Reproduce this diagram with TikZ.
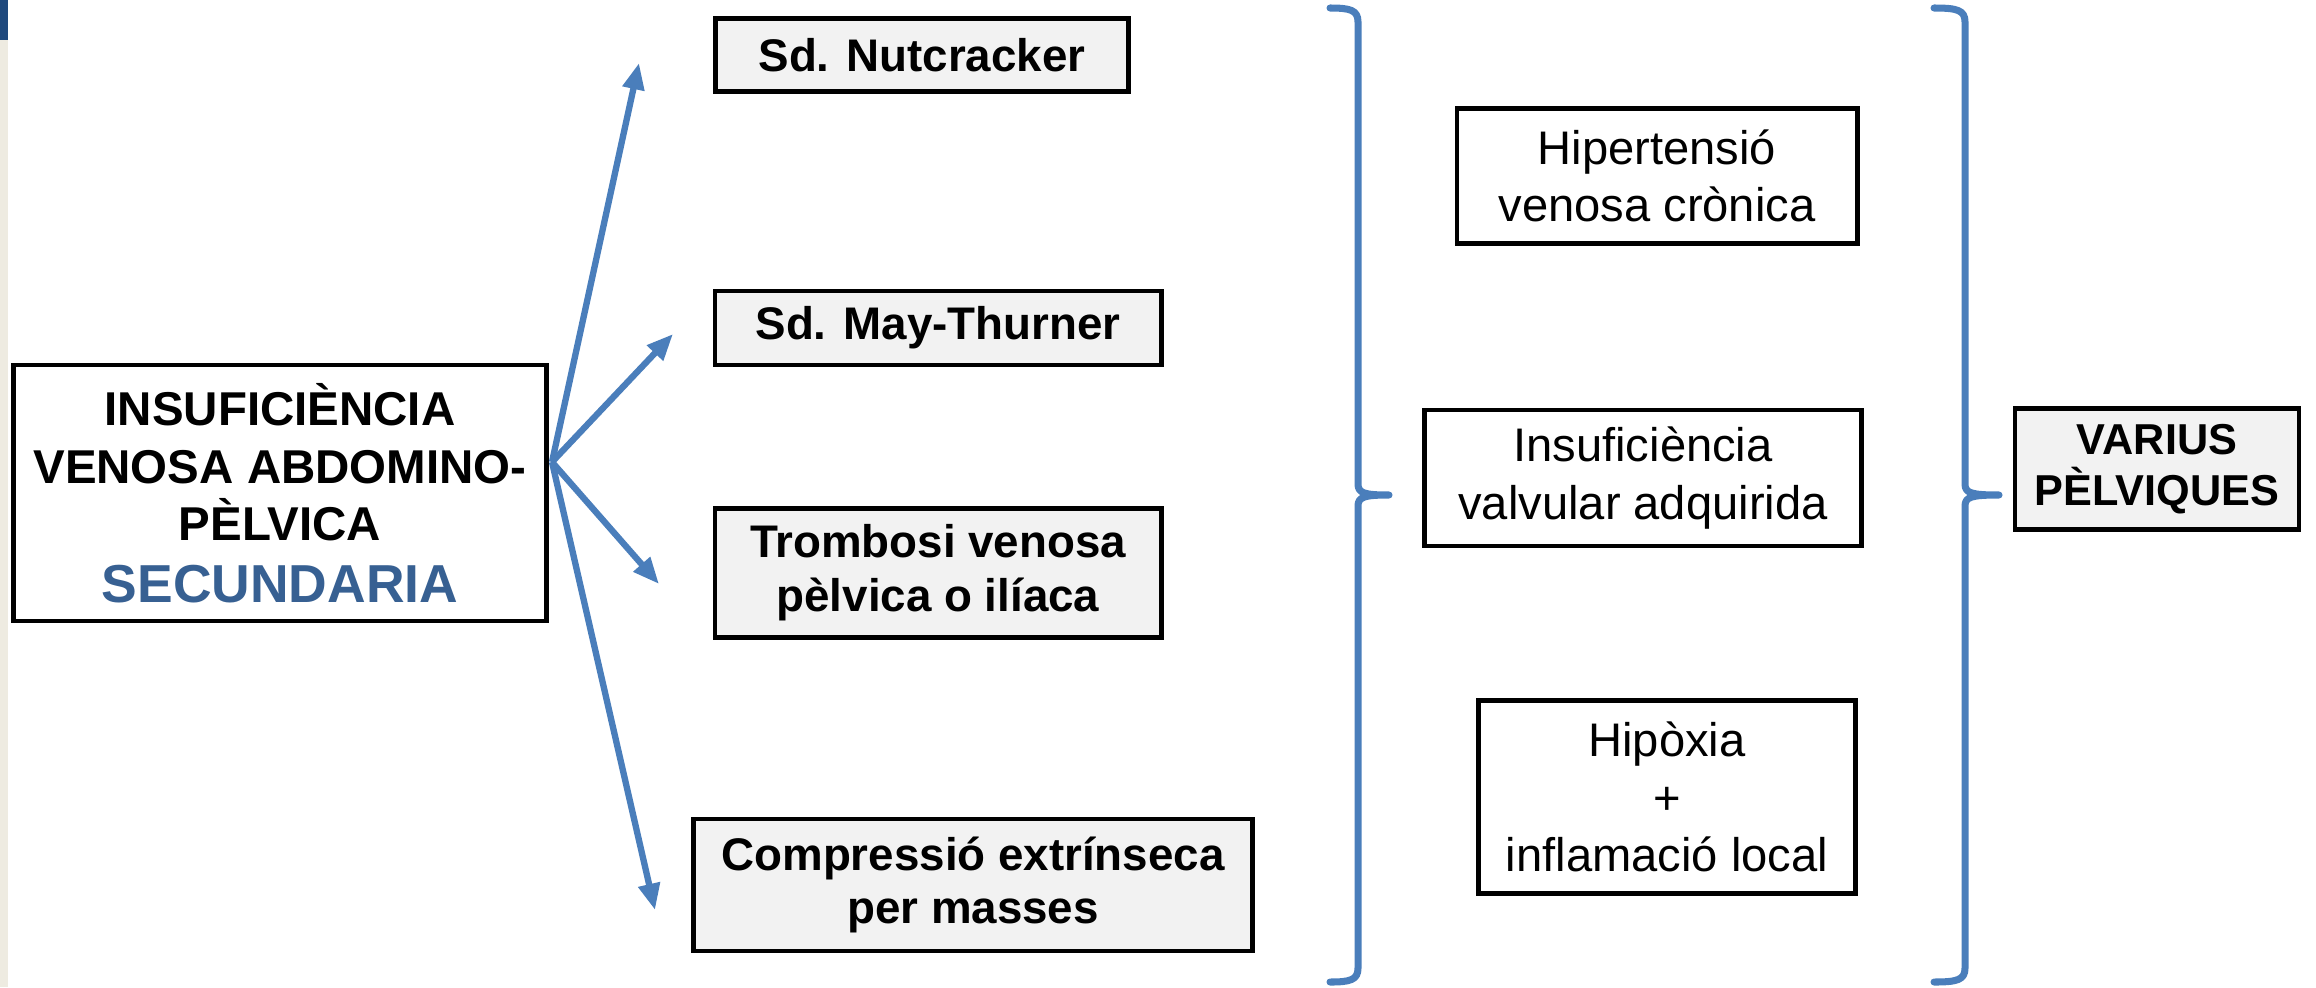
\documentclass[tikz,border=0pt]{standalone}
\usepackage{fontspec}
\setmainfont{Liberation Sans}
\usetikzlibrary{arrows.meta}
\definecolor{arrowblue}{HTML}{4A7EBB}
\definecolor{titleblue}{HTML}{376092}
\definecolor{boxgray}{HTML}{F2F2F2}
\definecolor{stripbeige}{HTML}{EEEBE1}
\definecolor{stripblue}{HTML}{1F497D}

\begin{document}
\begin{tikzpicture}[x=0.01cm, y=-0.01cm,
    mainbox/.style={draw, line width=1.35pt, fill=white, align=center, inner sep=0pt,
        font=\bfseries\fontsize{13.5}{16.4}\selectfont},
    causebox/.style={draw, line width=1.35pt, fill=boxgray, align=center, inner sep=0pt,
        font=\bfseries\fontsize{13}{15.3}\selectfont},
    effectbox/.style={draw, line width=1.35pt, fill=white, align=center, inner sep=0pt,
        font=\fontsize{13.4}{16.3}\selectfont},
    branch/.style={arrowblue, line width=1.8pt, -{Triangle[length=7.5pt, width=6pt]}},
    bracket/.style={arrowblue, line width=2pt, line cap=round, line join=round}]
    \useasboundingbox (0,0) rectangle (2316,987);

    % Slide strip at the left edge
    \fill[stripbeige] (0,0) rectangle (8,987);
    \fill[stripblue] (0,0) rectangle (8,40);

    % Secondary insufficiency
    \node[mainbox, minimum width=5.32cm, minimum height=2.56cm] (sec) at (280,493)
        {INSUFICIÈNCIA\\VENOSA ABDOMINO-\\PÈLVICA\\[1pt]
         {\fontsize{15.2}{17}\selectfont\textcolor{titleblue}{SECUNDARIA}}};

    % Causes
    \node[causebox, minimum width=4.13cm, minimum height=0.73cm] (nut) at (922,55) {Sd. Nutcracker};
    \node[causebox, minimum width=4.46cm, minimum height=0.74cm] (may) at (938,328) {Sd. May-Thurner};
    \node[causebox, minimum width=4.46cm, minimum height=1.29cm] (tromb) at (938,573) {Trombosi venosa\\pèlvica o ilíaca};
    \node[causebox, minimum width=5.58cm, minimum height=1.32cm] (comp) at (973,885) {Compressió extrínseca\\per masses};

    % Mechanisms
    \node[effectbox, minimum width=4.00cm, minimum height=1.35cm] (hiper) at (1657,176) {Hipertensió\\venosa crònica};
    \node[effectbox, minimum width=4.37cm, minimum height=1.36cm] (valv) at (1643,478) {Insuficiència\\valvular adquirida};
    \node[effectbox, minimum width=3.77cm, minimum height=1.93cm] (hipox) at (1667,797) {Hipòxia\\+\\inflamació local};

    % Result
    \node[causebox, font=\bfseries\fontsize{12.3}{14.3}\selectfont,
        minimum width=2.84cm, minimum height=1.21cm] (varius) at (2157,469) {VARIUS\\PÈLVIQUES};

    % Branching arrows
    \coordinate (fork) at (552,462);
    \coordinate (tipnut) at (639,63);
    \coordinate (tipmay) at (673,334);
    \coordinate (tiptromb) at (659,584);
    \coordinate (tipcomp) at (655,910);
    \draw[branch] (fork) -- (tipnut);
    \draw[branch] (fork) -- (tipmay);
    \draw[branch] (fork) -- (tiptromb);
    \draw[branch] (fork) -- (tipcomp);

    % Braces
    \draw[bracket] (1330,8) .. controls (1350,8) and (1358,10) .. (1358,22) -- (1358,484)
        .. controls (1358,493) and (1364,495) .. (1389,495)
        .. controls (1364,495) and (1358,497) .. (1358,506) -- (1358,968)
        .. controls (1358,980) and (1350,982) .. (1330,982);
    \begin{scope}[shift={(607,0)}]
        \draw[bracket] (1327,8) .. controls (1350,8) and (1358,10) .. (1358,22) -- (1358,484)
            .. controls (1358,493) and (1364,495) .. (1392,495)
            .. controls (1364,495) and (1358,497) .. (1358,506) -- (1358,968)
            .. controls (1358,980) and (1350,982) .. (1327,982);
    \end{scope}
\end{tikzpicture}
\end{document}
